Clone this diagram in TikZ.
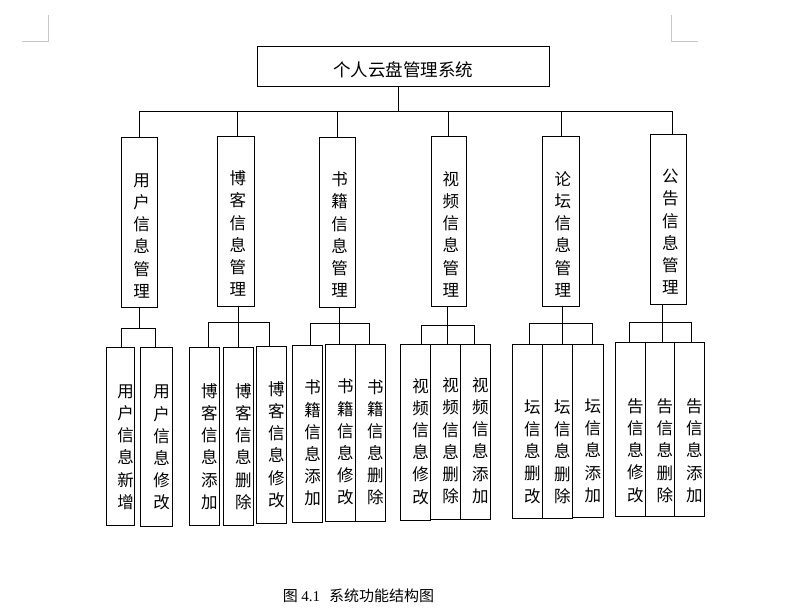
\documentclass[tikz,border=0pt]{standalone}
\usepackage{fontspec}
\setmainfont{Noto Sans CJK SC}
\newfontfamily\numfont{Liberation Serif}
\usetikzlibrary{positioning}

\tikzset{
  box/.style={draw=black,line width=0.9pt,inner sep=0pt},
  midbox/.style={box,minimum width=36.4pt,minimum height=170pt},
  leafbox/.style={box,minimum width=30pt,minimum height=176pt},
  midtext/.style={font=\fontsize{16.5pt}{22.2pt}\selectfont,align=center,inner sep=0pt,xshift=2pt},
  leaftext/.style={font=\fontsize{16.5pt}{22.2pt}\selectfont,align=center,inner sep=0pt,xshift=5pt},
  link/.style={black,line width=0.9pt},
  cornerline/.style={gray!45,line width=0.9pt}
}

\begin{document}
\begin{tikzpicture}[x=1pt,y=-1pt]
\useasboundingbox (0,0) rectangle (788,610);
\draw[cornerline] (22,41.7) -- (48.7,41.7) -- (48.7,15);
\draw[cornerline] (671.3,15) -- (671.3,41.7) -- (698,41.7);

\node[box,minimum width=291.7pt,text height=30.8pt,text depth=9.5pt,font=\fontsize{17.5pt}{21pt}\selectfont] (top) at (403.2,66.2) {个人云盘管理系统};

% second level
\node[midbox] (m1) at (139.5,222.8) {};
\node[midtext,above=10pt of m1.south] (m1t) {用\\户\\信\\息\\管\\理};
\node[midbox] (m2) at (235.8,221.3) {};
\node[midtext,above=10pt of m2.south] (m2t) {博\\客\\信\\息\\管\\理};
\node[midbox] (m3) at (337.5,222.3) {};
\node[midtext,above=10pt of m3.south] (m3t) {书\\籍\\信\\息\\管\\理};
\node[midbox,minimum width=35pt] (m4) at (448.8,221.8) {};
\node[midtext,above=10pt of m4.south] (m4t) {视\\频\\信\\息\\管\\理};
\node[midbox,minimum width=37pt] (m5) at (560.8,221.8) {};
\node[midtext,above=10pt of m5.south] (m5t) {论\\坛\\信\\息\\管\\理};
\node[midbox,minimum width=36pt] (m6) at (668.3,219.2) {};
\node[midtext,above=10pt of m6.south] (m6t) {公\\告\\信\\息\\管\\理};

\coordinate (bus) at (398.3,111);
\draw[link] (top.south -| bus) -- (bus);
\draw[link] (bus) -| (m1.north);
\draw[link] (bus) -| ([xshift=1.5pt]m2.north);
\draw[link] (bus) -| (m3.north);
\draw[link] (bus) -| (m4.north);
\draw[link] (bus) -| ([xshift=1pt]m5.north);
\draw[link] (bus) -| ([xshift=4.4pt]m6.north);

% third level
\node[leafbox,minimum width=27.6pt,minimum height=177.6pt] (a1) at (120.5,436.5) {};
\node[leaftext,above=16pt of a1.south] (a1t) {用\\户\\信\\息\\新\\增};
\node[leafbox,minimum width=31.6pt,minimum height=178.3pt] (a2) at (156.5,436.8) {};
\node[leaftext,above=16pt of a2.south] (a2t) {用\\户\\信\\息\\修\\改};

\node[leafbox,minimum height=177.6pt] (b1) at (204.3,436.5) {};
\node[leaftext,above=16pt of b1.south] (b1t) {博\\客\\信\\息\\添\\加};
\node[leafbox,minimum height=177.6pt] (b2) at (238.3,436.5) {};
\node[leaftext,above=16pt of b2.south] (b2t) {博\\客\\信\\息\\删\\除};
\node[leafbox,minimum width=29.3pt,minimum height=177.3pt] (b3) at (271.3,434.7) {};
\node[leaftext,above=16pt of b3.south] (b3t) {博\\客\\信\\息\\修\\改};

\node[leafbox,minimum height=177pt] (c1) at (307.7,433.5) {};
\node[leaftext,above=16pt of c1.south] (c1t) {书\\籍\\信\\息\\添\\加};
\node[leafbox,minimum height=176.7pt] (c2) at (340.3,432.7) {};
\node[leaftext,above=16pt of c2.south] (c2t) {书\\籍\\信\\息\\修\\改};
\node[leafbox,minimum height=176.7pt] (c3) at (370.3,432.7) {};
\node[leaftext,above=16pt of c3.south] (c3t) {书\\籍\\信\\息\\删\\除};

\node[leafbox,minimum width=30.4pt] (d1) at (415.5,432.3) {};
\node[leaftext,above=16pt of d1.south] (d1t) {视\\频\\信\\息\\修\\改};
\node[leafbox,minimum width=29.6pt,minimum height=175.4pt] (d2) at (445.5,432) {};
\node[leaftext,above=16pt of d2.south] (d2t) {视\\频\\信\\息\\删\\除};
\node[leafbox,minimum height=175pt] (d3) at (475.3,431.8) {};
\node[leaftext,above=16pt of d3.south] (d3t) {视\\频\\信\\息\\添\\加};

\node[leafbox,minimum height=174pt] (e1) at (527.3,431.3) {};
\node[leaftext,above=15pt of e1.south] (e1t) {坛\\信\\息\\删\\改};
\node[leafbox,minimum height=174pt] (e2) at (557.3,431.3) {};
\node[leaftext,above=15pt of e2.south] (e2t) {坛\\信\\息\\删\\除};
\node[leafbox,minimum width=31pt,minimum height=173pt] (e3) at (587.8,430.8) {};
\node[leaftext,above=15pt of e3.south] (e3t) {坛\\信\\息\\添\\加};

\node[leafbox,minimum height=174pt] (f1) at (630.3,429.3) {};
\node[leaftext,above=14pt of f1.south] (f1t) {告\\信\\息\\修\\改};
\node[leafbox,minimum width=29pt,minimum height=174pt] (f2) at (659.8,429.3) {};
\node[leaftext,above=14pt of f2.south] (f2t) {告\\信\\息\\删\\除};
\node[leafbox,minimum height=174pt] (f3) at (689.3,429.3) {};
\node[leaftext,above=14pt of f3.south] (f3t) {告\\信\\息\\添\\加};

\draw[link] (m1.south) -- ++(0,19.7) coordinate (j1);
\draw[link] (j1) -| ([xshift=0.8pt]a1.north);
\draw[link] (j1) -| ([xshift=-1.2pt]a2.north);

\draw[link] ([xshift=2.5pt]m2.south) -- ++(0,16) coordinate (j2);
\draw[link] (j2) -| ([xshift=4pt]b1.north);
\draw[link] (j2) -| (b2.north);
\draw[link] (j2) -| ([xshift=-2pt]b3.north);

\draw[link] ([xshift=1.8pt]m3.south) -- ++(0,15.4) coordinate (j3);
\draw[link] (j3) -| ([xshift=3pt]c1.north);
\draw[link] (j3) -| ([xshift=-1pt]c2.north);
\draw[link] (j3) -| ([xshift=-1pt]c3.north);

\draw[link] ([xshift=-1pt]m4.south) -- ++(0,18) coordinate (j4);
\draw[link] (j4) -| ([xshift=6pt]d1.north);
\draw[link] (j4) -| ([xshift=2.3pt]d2.north);
\draw[link] (j4) -| ([xshift=-1pt]d3.north);

\draw[link] ([xshift=1.5pt]m5.south) -- ++(0,16) coordinate (j5);
\draw[link] (j5) -| ([xshift=2.4pt]e1.north);
\draw[link] (j5) -| ([xshift=5pt]e2.north);
\draw[link] (j5) -| ([xshift=4.5pt]e3.north);

\draw[link] ([xshift=-6pt]m6.south) -- ++(0,18) coordinate (j6);
\draw[link] (j6) -| ([xshift=-1pt]f1.north);
\draw[link] (j6) -| ([xshift=2.5pt]f2.north);
\draw[link] (j6) -| ([xshift=2.4pt]f3.north);

\node[font=\fontsize{15pt}{18pt}\selectfont,inner sep=0pt] (cap) at (358.5,595.6) {图~{\numfont 4.1}\hspace{9pt}系统功能结构图};
\end{tikzpicture}
\end{document}
